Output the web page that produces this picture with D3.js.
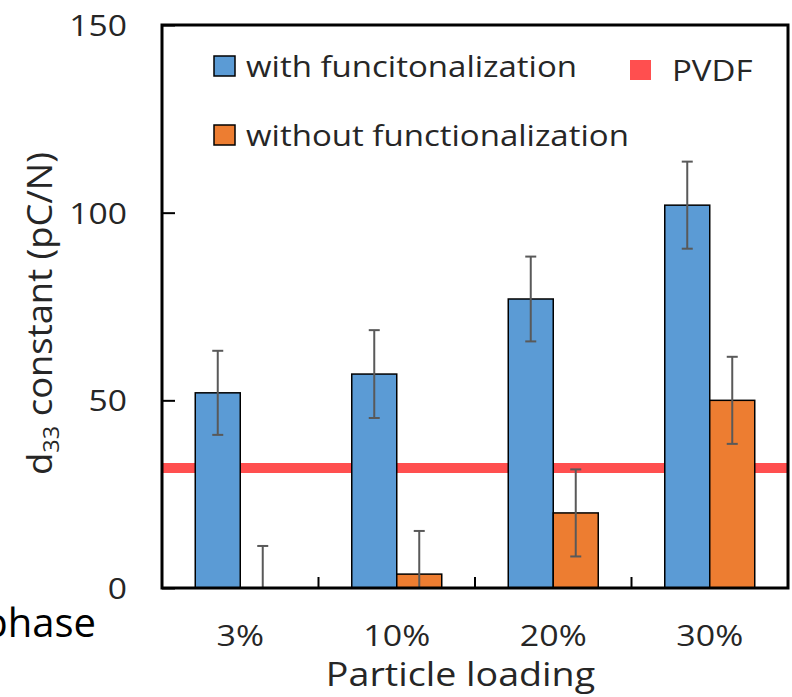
<!DOCTYPE html>
<html><head><meta charset="utf-8">
<script src="https://cdn.jsdelivr.net/npm/d3@7"></script>
<style>body{margin:0;background:#fff}svg{display:block}text{font-family:"Open Sans",Lato,sans-serif}</style>
</head><body>
<svg id="c" width="792" height="697"></svg>
<script>
const categories = ["3%", "10%", "20%", "30%"];
const seriesNames = ["with funcitonalization", "without functionalization"];
const withFunc = [52, 57, 77, 102];
const withFuncErr = [11.2, 11.7, 11.3, 11.6];
const withoutFunc = [0, 3.7, 20, 50];
const withoutFuncErr = [11.2, 11.5, 11.6, 11.6];
const pvdfValue = 32;
const yTicks = [0, 50, 100, 150];

const svg = d3.select("#c");
const L = 162, R = 788, T = 25, B = 588;
const y = d3.scaleLinear().domain([0, 150]).range([B, T]);
const x0 = d3.scaleBand().domain(categories).range([L, R]).paddingInner(0.425).paddingOuter(0.2125);
const x1 = d3.scaleBand().domain(seriesNames).range([0, x0.bandwidth()]);
const colors = d3.scaleOrdinal().domain(seriesNames).range(["#5B9BD5", "#ED7D31"]);
const txt = "#262626";

// widen glyphs slightly to match the reference typeface proportions
function stretch(sel, k) {
  sel.each(function () {
    const w = this.getComputedTextLength();
    d3.select(this).attr("textLength", w * k).attr("lengthAdjust", "spacingAndGlyphs");
  });
}

const rows = categories.map((c, i) => ({
  cat: c,
  vals: [
    {s: seriesNames[0], v: withFunc[i], e: withFuncErr[i]},
    {s: seriesNames[1], v: withoutFunc[i], e: withoutFuncErr[i]}
  ]
}));

// PVDF line
svg.append("line").attr("x1", L).attr("x2", R).attr("y1", y(pvdfValue)).attr("y2", y(pvdfValue))
  .attr("stroke", "#FF4F4F").attr("stroke-width", 10);

// bars
const g = svg.append("g");
const grp = g.selectAll("g.grp").data(rows).join("g").attr("transform", d => `translate(${x0(d.cat)},0)`);
grp.selectAll("rect").data(d => d.vals).join("rect")
  .attr("x", d => x1(d.s)).attr("width", x1.bandwidth())
  .attr("y", d => y(d.v)).attr("height", d => y(0) - y(d.v))
  .attr("fill", d => colors(d.s)).attr("stroke", "#000").attr("stroke-width", 1.5);

// error bars
const eb = grp.selectAll("g.eb").data(d => d.vals).join("g").attr("class", "eb")
  .attr("transform", d => `translate(${x1(d.s) + x1.bandwidth() / 2},0)`);
eb.append("line").attr("y1", d => y(Math.max(0, d.v - d.e))).attr("y2", d => y(d.v + d.e))
  .attr("stroke", "#595959").attr("stroke-width", 2);
eb.append("line").attr("x1", -5.5).attr("x2", 5.5).attr("y1", d => y(d.v + d.e)).attr("y2", d => y(d.v + d.e))
  .attr("stroke", "#595959").attr("stroke-width", 2);
eb.filter(d => d.v - d.e > 0).append("line").attr("x1", -5.5).attr("x2", 5.5)
  .attr("y1", d => y(d.v - d.e)).attr("y2", d => y(d.v - d.e))
  .attr("stroke", "#595959").attr("stroke-width", 2);

// y axis ticks (inward) and labels
const yAxis = d3.axisLeft(y).tickValues(yTicks).tickSize(-13).tickPadding(0).tickFormat(d3.format("d"));
const ya = svg.append("g").attr("transform", `translate(${L},0)`).call(yAxis);
ya.select(".domain").remove();
ya.selectAll(".tick line").attr("stroke", "#000").attr("stroke-width", 2);
ya.selectAll(".tick text").attr("x", -35).attr("dy", "0.35em").attr("fill", txt)
  .style("font-size", "30px").style("font-family", "'Open Sans'");
stretch(ya.selectAll(".tick text"), 1.12);

// x axis: labels + boundary ticks upward
const xa = svg.append("g").attr("transform", `translate(0,${B})`)
  .call(d3.axisBottom(x0).tickSize(0).tickPadding(0));
xa.select(".domain").remove();
xa.selectAll(".tick text").attr("y", 47).attr("dy", "0.35em").attr("fill", txt)
  .style("font-size", "30px").style("font-family", "'Open Sans'");
stretch(xa.selectAll(".tick text"), 1.13);
const step = x0.step();
svg.append("g").selectAll("line").data(categories.slice(1)).join("line")
  .attr("x1", d => x0(d) - x0.paddingInner() * step / 2).attr("x2", d => x0(d) - x0.paddingInner() * step / 2)
  .attr("y1", B).attr("y2", B - 11).attr("stroke", "#000").attr("stroke-width", 2);

// frame
svg.append("rect").attr("x", L).attr("y", T).attr("width", R - L).attr("height", B - T)
  .attr("fill", "none").attr("stroke", "#000").attr("stroke-width", 3);

// legend
const leg = svg.append("g");
const legItems = [
  {name: seriesNames[0], color: colors(seriesNames[0]), x: 214, y: 56, border: true},
  {name: seriesNames[1], color: colors(seriesNames[1]), x: 214, y: 125, border: true},
  {name: "PVDF", color: "#FF4F4F", x: 630, y: 60, border: false}
];
legItems.forEach(it => {
  leg.append("rect").attr("x", it.x).attr("y", it.y).attr("width", 21).attr("height", 20)
    .attr("fill", it.color).attr("stroke", it.border ? "#000" : "none").attr("stroke-width", 1.5);
  const t = leg.append("text").attr("x", it.x + (it.border ? 32 : 42)).attr("y", it.y + 10).attr("dy", "0.35em")
    .attr("fill", txt).style("font-size", "30px").text(it.name);
  stretch(t, 1.1);
});

// axis titles
const xt = svg.append("text").attr("x", 460.5).attr("y", 686).attr("text-anchor", "middle")
  .attr("fill", txt).style("font-size", "33px").text("Particle loading");
stretch(xt, 1.14);
const yt = svg.append("text").attr("transform", `translate(52,${(T + B) / 2 + 7}) rotate(-90)`)
  .attr("text-anchor", "middle").attr("fill", txt).style("font-size", "34px");
yt.append("tspan").text("d");
yt.append("tspan").attr("dy", 7).style("font-size", "22px").text("33");
yt.append("tspan").attr("dy", -7).text(" constant (pC/N)");
stretch(yt, 1.07);

// cropped fragment at left
svg.append("text").attr("x", 96).attr("y", 637).attr("text-anchor", "end").attr("fill", "#000")
  .style("font-size", "40px").text("phase");
</script>
</body></html>
